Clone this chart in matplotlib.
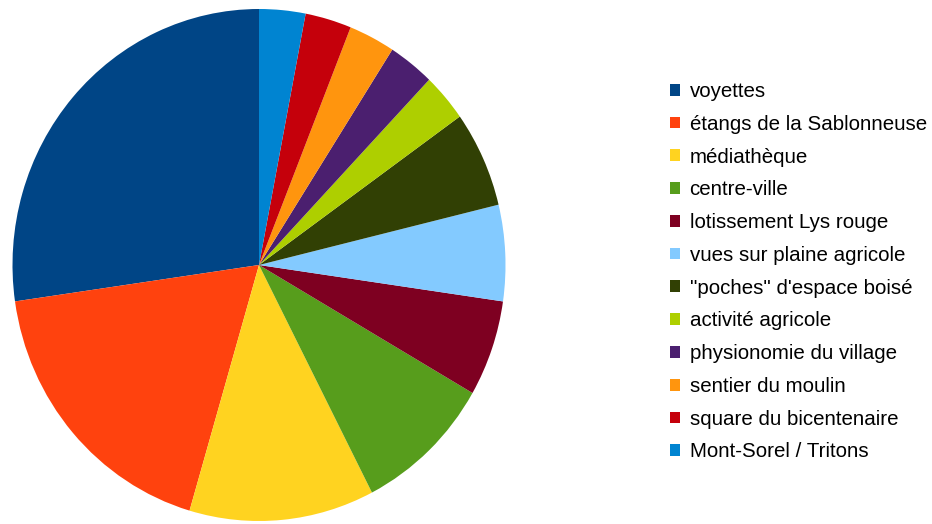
import matplotlib
matplotlib.use('Agg')
import matplotlib.pyplot as plt

# values (1 unit ~ 10.9 deg)
labels = ['voyettes', 'étangs de la Sablonneuse', 'médiathèque', 'centre-ville',
          'lotissement Lys rouge', 'vues sur plaine agricole', '"poches" d\'espace boisé',
          'activité agricole', 'physionomie du village', 'sentier du moulin',
          'square du bicentenaire', 'Mont-Sorel / Tritons']
counts = [9, 6, 4, 3, 2, 2, 2, 1, 1, 1, 1, 1]
colors = ['#004586', '#ff420e', '#ffd320', '#579d1c', '#7e0021', '#83caff',
          '#314004', '#aecf00', '#4b1f6f', '#ff950e', '#c5000b', '#0084d1']

plt.rcParams['font.family'] = ['Liberation Sans', 'DejaVu Sans']

fig = plt.figure(figsize=(9.32, 5.24), dpi=100)
ax = fig.add_axes([12.5/932, 3/524, 493/932, 512/524])
wedges, _ = ax.pie(counts, colors=colors, startangle=90, counterclock=True,
                   radius=1, wedgeprops={'linewidth': 0})
ax.set_aspect('auto')
ax.set_xlim(-1, 1)
ax.set_ylim(-1, 1)

fig.legend(wedges, labels, loc='upper left', bbox_to_anchor=(670/932, 1 - 82/524),
           frameon=False, fontsize=14.8, handlelength=0.5, handleheight=0.5,
           handletextpad=0.45, labelspacing=0.67, borderaxespad=0, borderpad=0)

fig.savefig('out.png', dpi=100)
